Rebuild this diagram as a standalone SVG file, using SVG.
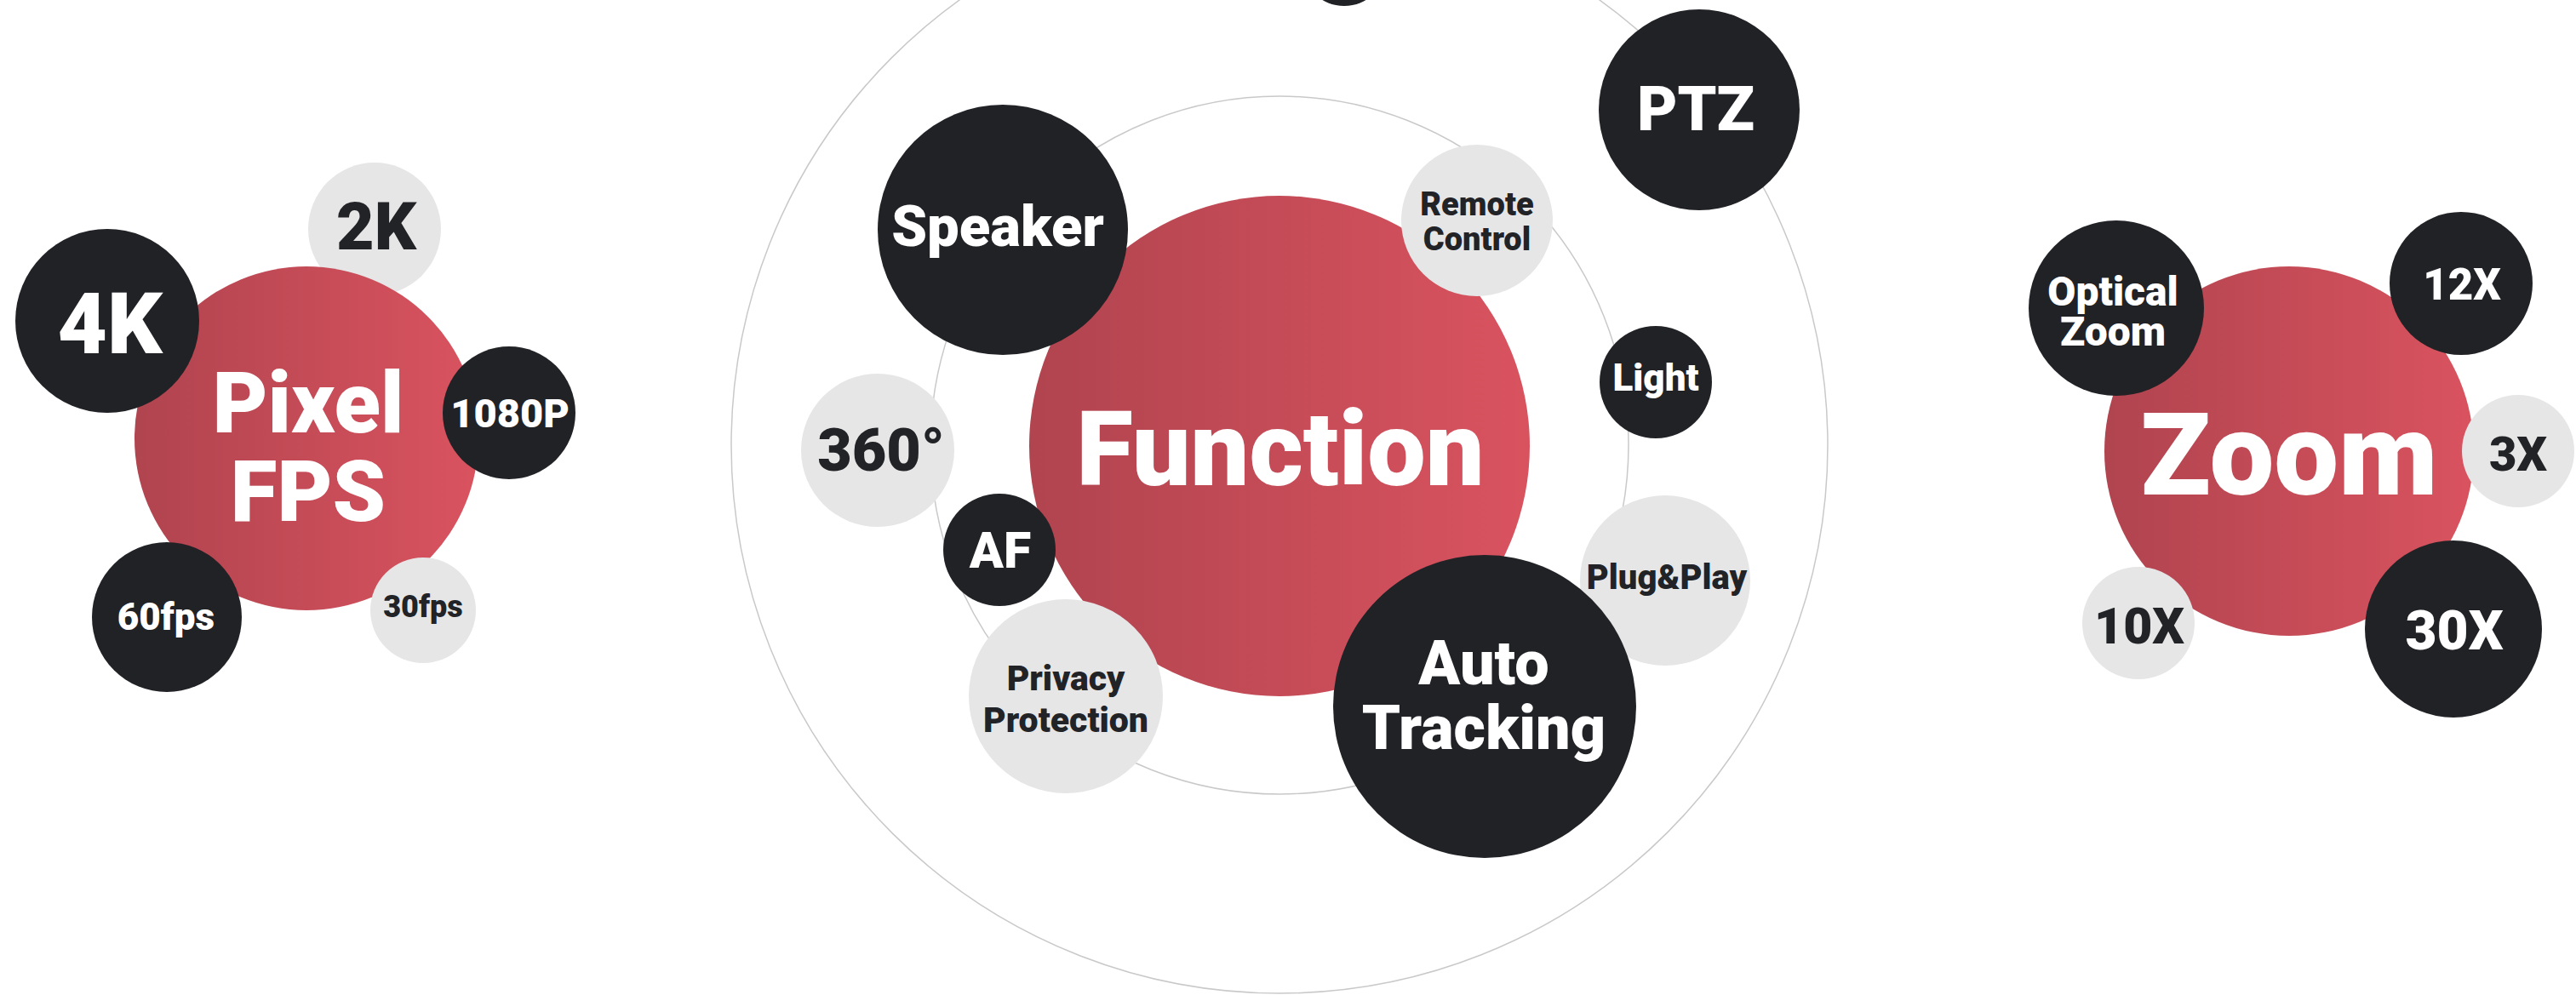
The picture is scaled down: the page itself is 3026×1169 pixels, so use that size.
<svg xmlns="http://www.w3.org/2000/svg" width="3026" height="1169" viewBox="0 0 3026 1169">
<defs>
<linearGradient id="red" x1="0" y1="0" x2="1" y2="0">
<stop offset="0" stop-color="#b0444f"/>
<stop offset="1" stop-color="#d9535f"/>
</linearGradient>
</defs>
<style>
.red{fill:url(#red)}
.blk{fill:#212226}
.gry{fill:#e7e6e7}
.ring{fill:none;stroke:#c9c9c9;stroke-width:1.5}
text{font-family:Roboto,"Noto Sans","Liberation Sans",sans-serif;font-weight:900;text-anchor:middle}
.w{fill:#ffffff}
.d{fill:#222326}
</style>
<rect width="3026" height="1169" fill="#ffffff"/>
<g id="rings">
<circle class="ring" cx="1503" cy="523" r="644"/>
<circle class="ring" cx="1503" cy="523" r="410"/>
</g>
<g id="connectors"></g>

<!-- Pixel FPS cluster -->
<g id="n-2k"><circle class="gry" cx="440" cy="269" r="78"/><text class="d" x="442" y="293" font-size="77">2K</text></g>
<g id="n-pixel"><circle class="red" cx="360" cy="515" r="202"/><text class="w" x="362" y="508" font-size="100">Pixel</text><text class="w" x="362" y="612" font-size="100">FPS</text></g>
<g id="n-4k"><circle class="blk" cx="126" cy="377" r="108"/><text class="w" x="129" y="415" font-size="101">4K</text></g>
<g id="n-1080p"><circle class="blk" cx="598" cy="485" r="78"/><text class="w" x="599" y="502" font-size="47">1080P</text></g>
<g id="n-60fps"><circle class="blk" cx="196" cy="725" r="88"/><text class="w" x="195" y="740" font-size="44">60fps</text></g>
<g id="n-30fps"><circle class="gry" cx="497" cy="717" r="62"/><text class="d" x="497" y="725" font-size="36">30fps</text></g>

<!-- Function cluster -->
<g id="n-top"><circle class="blk" cx="1579" cy="-43" r="50"/></g>
<g id="n-function"><circle class="red" cx="1503" cy="524" r="294"/><text class="w" x="1504" y="570" font-size="122">Function</text></g>
<g id="n-speaker"><circle class="blk" cx="1178" cy="270" r="147"/><text class="w" x="1172" y="289" font-size="67">Speaker</text></g>
<g id="n-remote"><circle class="gry" cx="1735" cy="259" r="89"/><text class="d" x="1735" y="253" font-size="38">Remote</text><text class="d" x="1735" y="294" font-size="38">Control</text></g>
<g id="n-ptz"><circle class="blk" cx="1996" cy="129" r="118"/><text class="w" x="1992" y="153" font-size="73">PTZ</text></g>
<g id="n-light"><circle class="blk" cx="1945" cy="449" r="66"/><text class="w" x="1945" y="459" font-size="44">Light</text></g>
<g id="n-360"><circle class="gry" cx="1031" cy="529" r="90"/><text class="d" x="1035" y="553" font-size="70">360°</text></g>
<g id="n-af"><circle class="blk" cx="1174" cy="646" r="66"/><text class="w" x="1175" y="667" font-size="59">AF</text></g>
<g id="n-privacy"><circle class="gry" cx="1252" cy="818" r="114"/><text class="d" x="1252" y="811" font-size="41">Privacy</text><text class="d" x="1252" y="860" font-size="41">Protection</text></g>
<g id="n-plug"><circle class="gry" cx="1956" cy="682" r="100"/><text class="d" x="1958" y="692" font-size="40">Plug&amp;Play</text></g>
<g id="n-auto"><circle class="blk" cx="1744" cy="830" r="178"/><text class="w" x="1743" y="804" font-size="72">Auto</text><text class="w" x="1743" y="880" font-size="72">Tracking</text></g>

<!-- Zoom cluster -->
<g id="n-zoom"><circle class="red" cx="2689" cy="530" r="217"/><text class="w" x="2689" y="581" font-size="135">Zoom</text></g>
<g id="n-optical"><circle class="blk" cx="2486" cy="362" r="103"/><text class="w" x="2482" y="359" font-size="48">Optical</text><text class="w" x="2482" y="406" font-size="48">Zoom</text></g>
<g id="n-12x"><circle class="blk" cx="2891" cy="333" r="84"/><text class="w" x="2892" y="352" font-size="51">12X</text></g>
<g id="n-3x"><circle class="gry" cx="2958" cy="530" r="66"/><text class="d" x="2958" y="553" font-size="56">3X</text></g>
<g id="n-10x"><circle class="gry" cx="2512" cy="732" r="66"/><text class="d" x="2513" y="756" font-size="59">10X</text></g>
<g id="n-30x"><circle class="blk" cx="2882" cy="739" r="104"/><text class="w" x="2883" y="763" font-size="64">30X</text></g>
</svg>
